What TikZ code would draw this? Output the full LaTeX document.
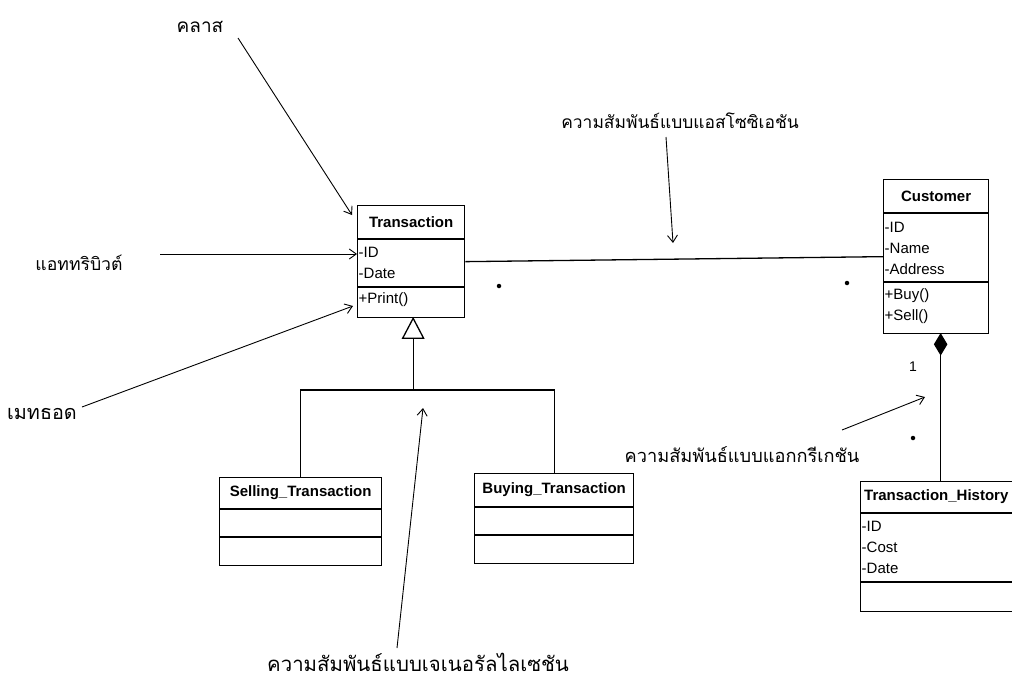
\documentclass[tikz,border=0pt]{standalone}
\usepackage{fontspec}
\setmainfont{Liberation Sans}
\newfontfamily\thai[Script=Thai]{Loma}
\usetikzlibrary{arrows.meta,calc}
\tikzset{
  box/.style={draw, line width=1.3pt, anchor=north west, inner sep=0pt},
  hdr/.style={font=\fontsize{15}{17}\selectfont\bfseries, inner sep=0pt},
  attr/.style={font=\fontsize{15}{21}\selectfont, align=left, anchor=north west, inner sep=1.5pt},
  lbl/.style={inner sep=0pt},
  note/.style={line width=0.9pt, -{Straight Barb[length=7pt,width=10pt,line width=0.9pt]}},
  conn/.style={line width=1.3pt},
  dotm/.style={fill, circle, inner sep=0pt, minimum size=4.5pt}
}
\newcommand{\thaisz}[1]{\thai\fontsize{#1}{#1}\selectfont}
\begin{document}
\begin{tikzpicture}[x=1pt,y=-1pt]
\useasboundingbox (0,0) rectangle (1012,680);
\clip (0,0) rectangle (1012,680);
\fill[white] (0,0) rectangle (1012,680);

% Transaction
\node[box, minimum width=107, minimum height=112] (T) at (357,205) {};
\draw[conn] ([yshift=-34]T.north west) -- ([yshift=-34]T.north east);
\draw[conn] ([yshift=-82]T.north west) -- ([yshift=-82]T.north east);
\node[hdr] at ([yshift=-17]T.north) {Transaction};
\node[attr] at ([yshift=-40]T.north west) {-ID\\-Date};
\node[attr] at ([yshift=-86]T.north west) {+Print()};

% Customer
\node[box, minimum width=105, minimum height=154] (C) at (883,179) {};
\draw[conn] ([yshift=-34]C.north west) -- ([yshift=-34]C.north east);
\draw[conn] ([yshift=-103]C.north west) -- ([yshift=-103]C.north east);
\node[hdr] at ([yshift=-17]C.north) {Customer};
\node[attr] at ([yshift=-41]C.north west) {-ID\\-Name\\-Address};
\node[attr] at ([yshift=-108]C.north west) {+Buy()\\+Sell()};

% Selling_Transaction
\node[box, minimum width=162, minimum height=88] (S) at (219,477) {};
\draw[conn] ([yshift=-32]S.north west) -- ([yshift=-32]S.north east);
\draw[conn] ([yshift=-60]S.north west) -- ([yshift=-60]S.north east);
\node[hdr] at ([yshift=-16]S.north) {Selling\_Transaction};

% Buying_Transaction
\node[box, minimum width=159, minimum height=90] (B) at (474,473) {};
\draw[conn] ([yshift=-34]B.north west) -- ([yshift=-34]B.north east);
\draw[conn] ([yshift=-62]B.north west) -- ([yshift=-62]B.north east);
\node[hdr] at ([yshift=-17]B.north) {Buying\_Transaction};

% Transaction_History
\node[box, minimum width=170, minimum height=130] (H) at (860,481) {};
\draw[conn] ([yshift=-32]H.north west) -- ([yshift=-32]H.north east);
\draw[conn] ([yshift=-101]H.north west) -- ([yshift=-101]H.north east);
\node[hdr, anchor=west] at ([xshift=4,yshift=-16]H.north west) {Transaction\_History};
\node[attr] at ([yshift=-38]H.north west) {-ID\\-Cost\\-Date};

% Association
\draw[conn] (T.east) -- (C.west);

% Generalization
\coordinate (tri) at ([xshift=2]T.south);
\draw[conn, fill=white] (tri) -- ++(-10.5,20) -- ++(21,0) -- cycle;
\coordinate (trib) at ([yshift=-20]tri);
\coordinate (gj) at (tri |- 0,390);
\draw[conn] (trib) -- (gj);
\draw[conn] (S.north) -- (S.north |- gj) -- (B.north |- gj) -- (B.north);

% Composition
\coordinate (dm) at ([xshift=4.5]C.south);
\draw[conn, fill=black] (dm) -- ++(6,10) -- ++(-6,10) -- ++(-6,-10) -- cycle;
\coordinate (dmb) at ([yshift=-20]dm);
\draw[conn] (dmb) -- (dmb |- H.north);
\node[font=\fontsize{14}{16}\selectfont, inner sep=0pt] (one) at (913,367) {1};

% dots
\node[dotm] (d1) at (499,286) {};
\node[dotm] (d2) at (847,283) {};
\node[dotm] (d3) at (913,438) {};

% Labels
\node[lbl, font=\thaisz{19}] (Lclass) at (200,27) {คลาส};
\node[lbl, font=\thaisz{17.6}] (Lattr) at (79,263) {แอททริบิวต์};
\node[lbl, font=\thaisz{19.8}] (Lmeth) at (42,414) {เมทธอด};
\node[lbl, font=\thaisz{17.4}] (Lassoc) at (680,121) {ความสัมพันธ์แบบแอสโซซิเอชัน};
\node[lbl, font=\thaisz{18.2}] (Laggr) at (742,455) {ความสัมพันธ์แบบแอกกรีเกชัน};
\node[lbl, font=\thaisz{20.4}] (Lgen) at (418,662) {ความสัมพันธ์แบบเจเนอรัลไลเซชัน};

% annotation arrows
\coordinate (a1s) at (238,38);   \coordinate (a1e) at (352,215);
\coordinate (a2s) at (160,254);  \coordinate (a2e) at (357,254);
\coordinate (a3s) at (82,407);   \coordinate (a3e) at (353,306);
\coordinate (a4s) at (666,137);  \coordinate (a4e) at (673,243);
\coordinate (a5s) at (842,430);  \coordinate (a5e) at (925,397);
\coordinate (a6s) at (397,648);  \coordinate (a6e) at (423,408);
\draw[note] (a1s) -- (a1e);
\draw[note] (a2s) -- (a2e);
\draw[note] (a3s) -- (a3e);
\draw[note] (a4s) -- (a4e);
\draw[note] (a5s) -- (a5e);
\draw[note] (a6s) -- (a6e);
\end{tikzpicture}
\end{document}
